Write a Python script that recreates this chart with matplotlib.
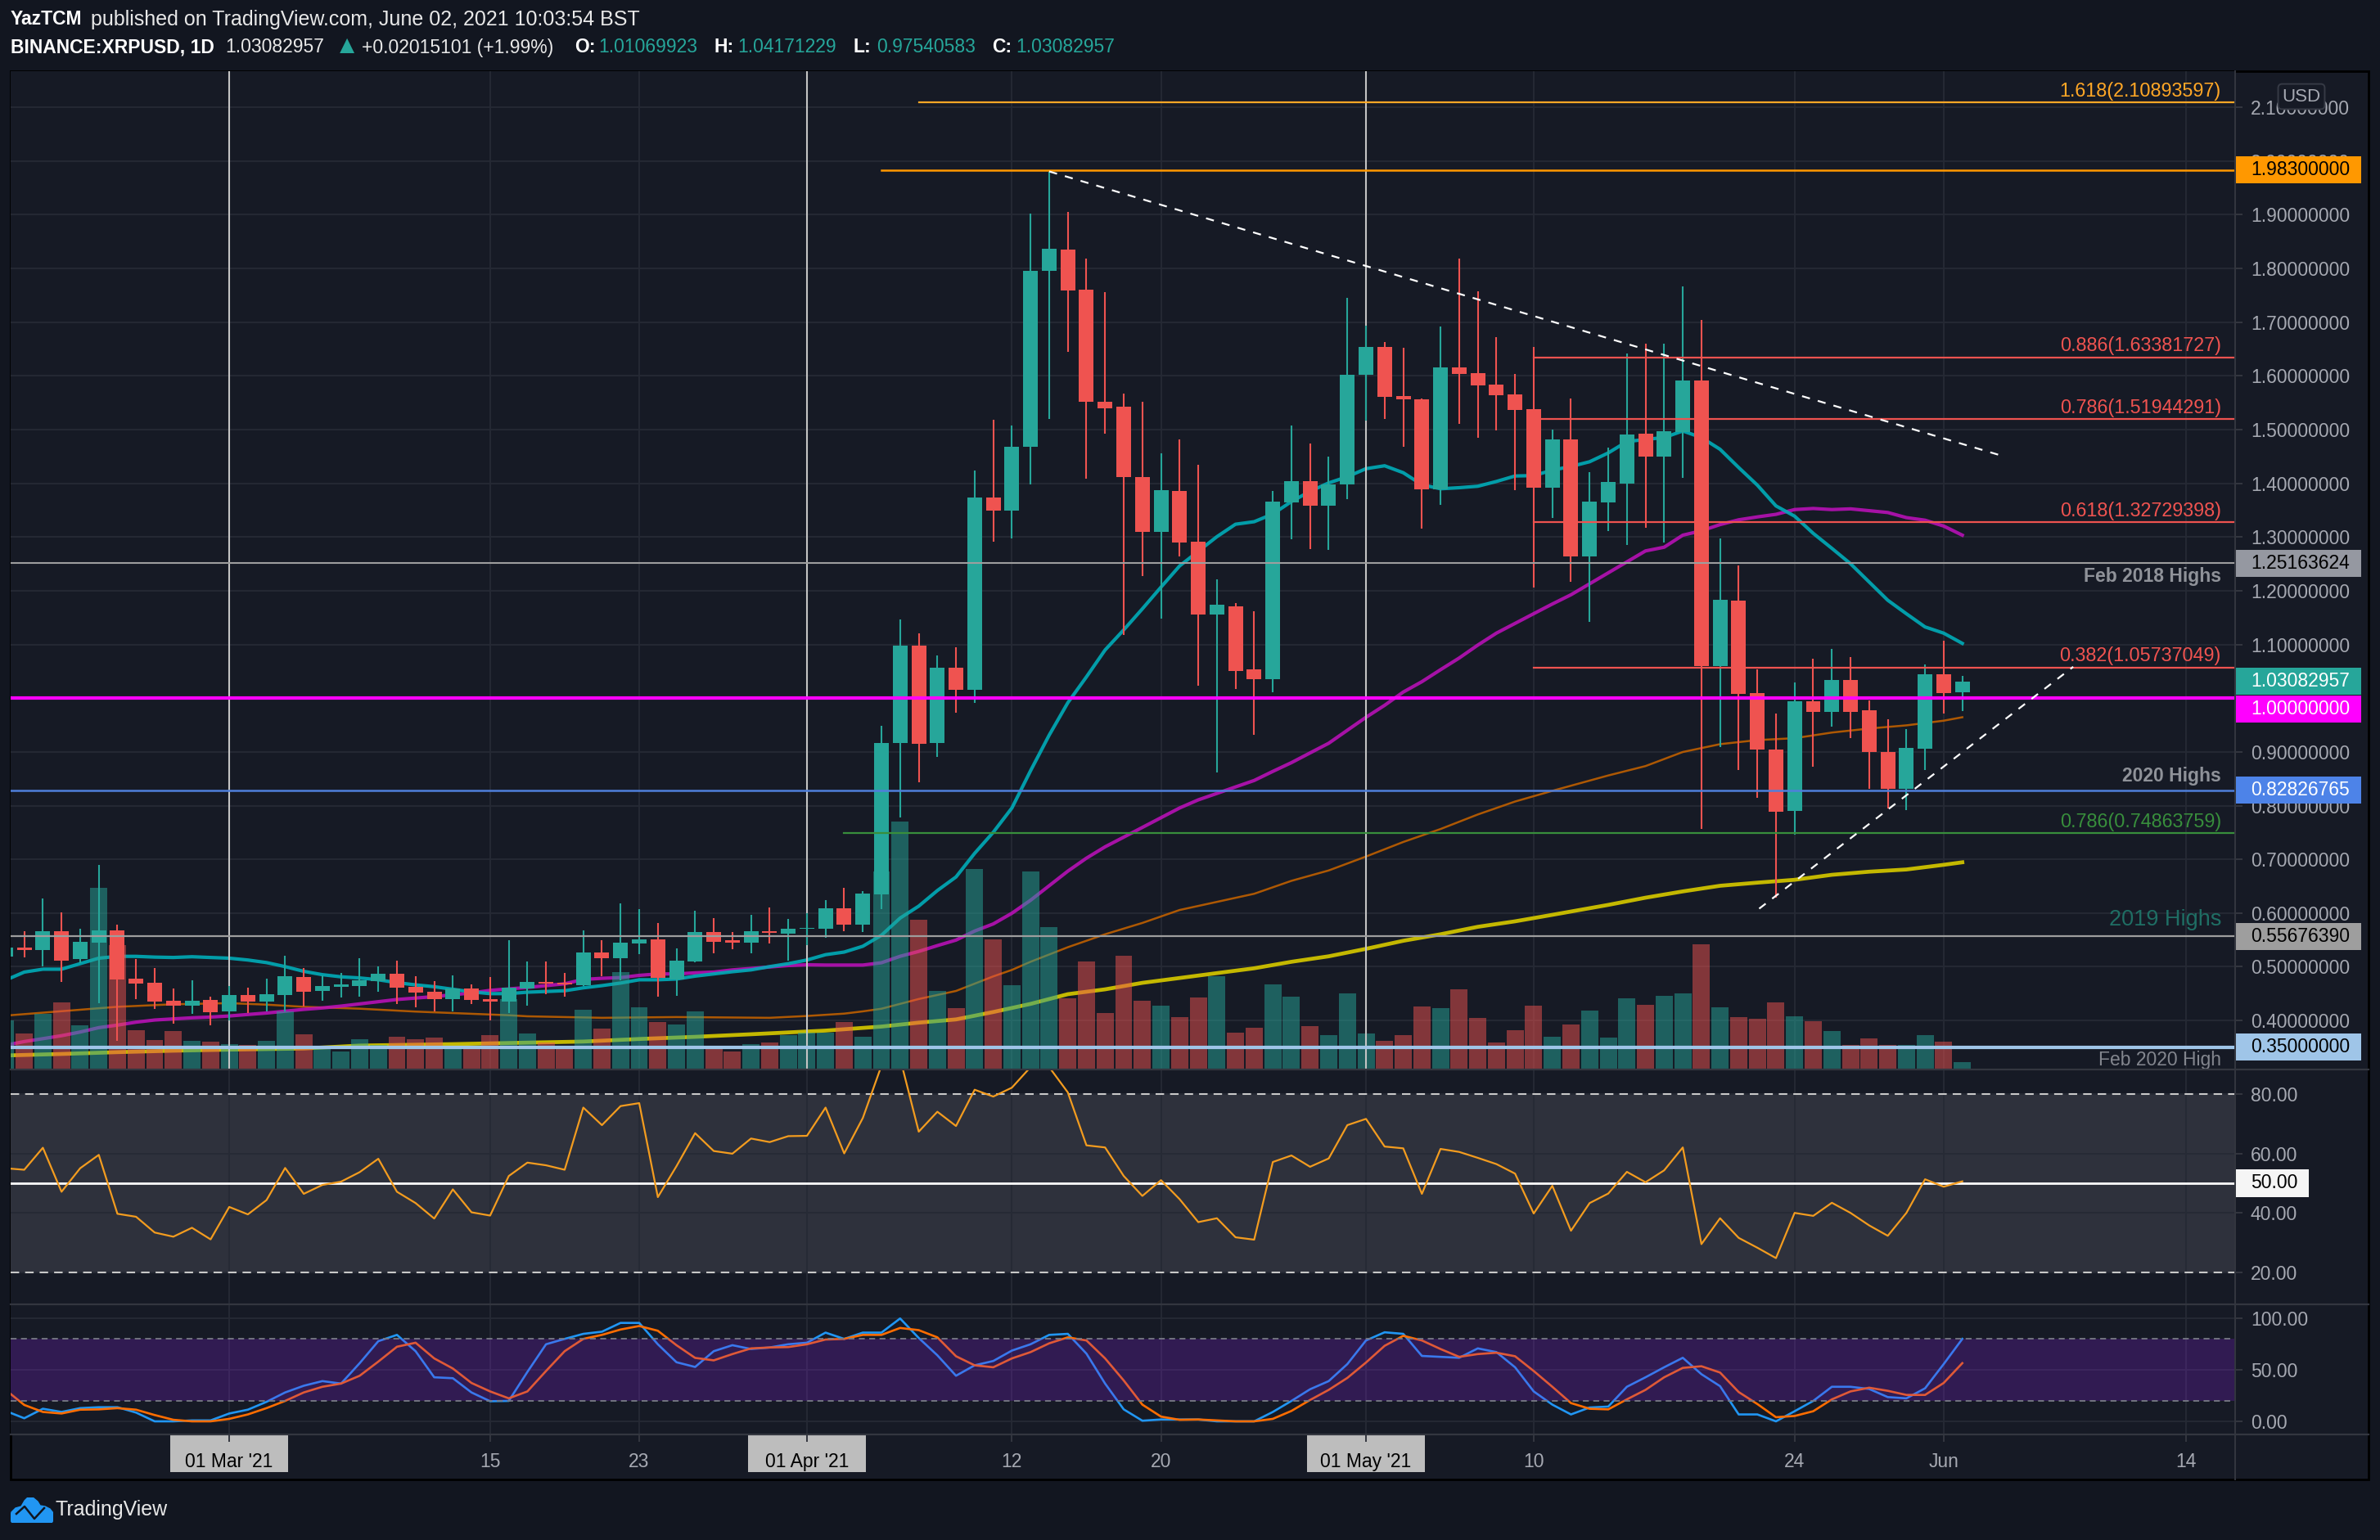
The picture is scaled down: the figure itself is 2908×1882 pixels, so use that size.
#!/usr/bin/env python3
"""
XRPUSD 日线图：K 线、成交量、均线、RSI 与 Stoch RSI
===================================================
用法: python plot.py
"""

import matplotlib
matplotlib.use("Agg")  # 无 GUI 后端
import matplotlib.pyplot as plt
from matplotlib.lines import Line2D
from matplotlib.patches import Rectangle

plt.rcParams["font.family"] = ["Liberation Sans", "DejaVu Sans"]
plt.rcParams["font.size"] = 16.5

# 日期序号：0 = 2021-03-01，第一根 K 线为 -12
days = list(range(-12, 94))

opens = [
    0.5194, 0.5350, 0.5316, 0.5663, 0.5139, 0.5452, 0.5677, 0.4778, 0.4704, 0.4370, 0.4275, 0.4384,
    0.4173, 0.4472, 0.4350, 0.4472, 0.4813, 0.4554, 0.4629, 0.4642, 0.4731, 0.4874, 0.4629, 0.4533,
    0.4397, 0.4595, 0.4397, 0.4350, 0.4595, 0.4717, 0.4704, 0.4656, 0.5269, 0.5160, 0.5439, 0.5513,
    0.4758, 0.5098, 0.5650, 0.5493, 0.5452, 0.5663, 0.5616, 0.5704, 0.5708, 0.6093, 0.5786, 0.6352,
    0.9161, 1.0982, 0.9161, 1.0560, 1.0162, 1.3728, 1.3496, 1.4674, 1.7954, 1.8348, 1.7600, 1.5524,
    1.5422, 1.4109, 1.3102, 1.3864, 1.2918, 1.1550, 1.1713, 1.0529, 1.0359, 1.3639, 1.4034, 1.3578,
    1.3973, 1.6014, 1.6531, 1.5620, 1.5558, 1.3884, 1.6164, 1.6048, 1.5830, 1.5647, 1.5375, 1.3911,
    1.4810, 1.2632, 1.3639, 1.4000, 1.4919, 1.4504, 1.4953, 1.5906, 1.0598, 1.1823, 1.0089, 0.9050,
    0.7907, 0.9949, 0.9750, 1.0345, 0.9768, 0.9004, 0.8316, 0.9062, 1.0438, 1.0107,
]
highs = [
    0.5450, 0.5663, 0.6276, 0.6017, 0.5711, 0.6902, 0.5786, 0.5146, 0.4976, 0.4595, 0.4751, 0.4445,
    0.4642, 0.4615, 0.4778, 0.5207, 0.4976, 0.4840, 0.4887, 0.5160, 0.5010, 0.5112, 0.4826, 0.4731,
    0.4840, 0.4676, 0.4813, 0.5493, 0.5098, 0.5098, 0.4887, 0.5677, 0.5493, 0.6180, 0.6078, 0.5820,
    0.5343, 0.6044, 0.5908, 0.5650, 0.5969, 0.6106, 0.5895, 0.5997, 0.6238, 0.6473, 0.6407, 0.9493,
    1.1470, 1.1211, 1.0801, 1.0952, 1.4231, 1.5177, 1.5068, 1.9015, 1.9805, 1.9049, 1.8178, 1.7552,
    1.5674, 1.5511, 1.4551, 1.4810, 1.4340, 1.2217, 1.1774, 1.1625, 1.3850, 1.5082, 1.4735, 1.4503,
    1.7450, 1.6933, 1.6627, 1.6518, 1.5585, 1.6926, 1.8178, 1.7573, 1.6715, 1.6028, 1.6531, 1.5007,
    1.5572, 1.4204, 1.4660, 1.6423, 1.6600, 1.6600, 1.7662, 1.7036, 1.2980, 1.2476, 1.0530, 0.9721,
    1.0298, 1.0742, 1.0911, 1.0771, 0.9960, 0.9610, 0.9418, 1.0631, 1.1062, 1.0417,
]
lows = [
    0.5120, 0.5173, 0.5010, 0.4717, 0.5071, 0.4323, 0.3615, 0.4397, 0.4220, 0.3935, 0.4125, 0.3914,
    0.4003, 0.4139, 0.4173, 0.4173, 0.4268, 0.4370, 0.4431, 0.4445, 0.4533, 0.4309, 0.4241, 0.4173,
    0.4173, 0.4309, 0.3996, 0.4139, 0.4275, 0.4493, 0.4445, 0.4649, 0.4826, 0.4751, 0.5234, 0.4445,
    0.4459, 0.5085, 0.5255, 0.5323, 0.5255, 0.5439, 0.5112, 0.5398, 0.5545, 0.5665, 0.5647, 0.6075,
    0.7775, 0.8438, 0.8902, 0.9722, 0.9915, 1.2918, 1.2979, 1.3973, 1.5198, 1.6443, 1.4082, 1.4919,
    1.1182, 1.2271, 1.1488, 1.2645, 1.0230, 0.8619, 1.0175, 0.9312, 1.0114, 1.2965, 1.2782, 1.2761,
    1.3700, 1.5164, 1.5198, 1.4687, 1.3156, 1.3591, 1.5102, 1.4850, 1.4980, 1.3871, 1.2054, 1.3360,
    1.2162, 1.1421, 1.3115, 1.2850, 1.3170, 1.2898, 1.4096, 0.7569, 0.9087, 0.8658, 0.8141, 0.6286,
    0.7464, 0.8730, 0.9464, 0.9255, 0.8310, 0.7948, 0.7913, 0.8660, 0.9721, 0.9754,
]
closes = [
    0.5364, 0.5316, 0.5663, 0.5112, 0.5466, 0.5677, 0.4765, 0.4690, 0.4350, 0.4275, 0.4370, 0.4153,
    0.4472, 0.4350, 0.4493, 0.4826, 0.4533, 0.4642, 0.4676, 0.4751, 0.4874, 0.4615, 0.4520, 0.4397,
    0.4595, 0.4384, 0.4357, 0.4615, 0.4717, 0.4690, 0.4670, 0.5269, 0.5160, 0.5452, 0.5513, 0.4792,
    0.5112, 0.5650, 0.5466, 0.5452, 0.5663, 0.5636, 0.5711, 0.5724, 0.6093, 0.5786, 0.6358, 0.9161,
    1.0982, 0.9143, 1.0572, 1.0162, 1.3728, 1.3496, 1.4687, 1.7954, 1.8362, 1.7586, 1.5511, 1.5402,
    1.4109, 1.3102, 1.3877, 1.2904, 1.1550, 1.1734, 1.0509, 1.0359, 1.3653, 1.4034, 1.3578, 1.3986,
    1.6014, 1.6531, 1.5606, 1.5558, 1.3884, 1.6164, 1.6028, 1.5817, 1.5633, 1.5361, 1.3911, 1.4823,
    1.2632, 1.3653, 1.4020, 1.4905, 1.4497, 1.4967, 1.5906, 1.0598, 1.1836, 1.0087, 0.9050, 0.7890,
    0.9949, 0.9750, 1.0345, 0.9750, 0.8992, 0.8316, 0.9080, 1.0438, 1.0100, 1.0308,
]

volumes = [
    60, 44, 68, 82, 54, 222, 152, 48, 36, 47, 35, 34, 31, 30, 35, 71, 43, 28, 22, 37, 30, 40, 37, 39,
    28, 25, 42, 86, 44, 33, 29, 73, 50, 119, 76, 58, 55, 71, 29, 22, 31, 33, 42, 45, 45, 58, 40, 242,
    303, 183, 96, 75, 245, 159, 103, 242, 174, 87, 132, 69, 139, 84, 78, 64, 88, 114, 45, 51, 104, 89,
    53, 42, 93, 44, 35, 42, 77, 75, 98, 63, 33, 48, 78, 40, 55, 72, 39, 87, 79, 90, 93, 153, 76, 64,
    62, 82, 65, 59, 47, 30, 38, 30, 30, 42, 34, 9,
]

# 均线（逐日读取）
ma_teal = [
    0.4751, 0.4901, 0.4955, 0.4955, 0.5058, 0.5160, 0.5194, 0.5194, 0.5180, 0.5173, 0.5187, 0.5173,
    0.5160, 0.5126, 0.5078, 0.5003, 0.4915, 0.4853, 0.4813, 0.4792, 0.4758, 0.4704, 0.4663, 0.4629,
    0.4581, 0.4533, 0.4500, 0.4500, 0.4527, 0.4540, 0.4554, 0.4608, 0.4649, 0.4697, 0.4758, 0.4758,
    0.4772, 0.4826, 0.4867, 0.4908, 0.4942, 0.5003, 0.5058, 0.5126, 0.5225, 0.5274, 0.5382, 0.5587,
    0.5906, 0.6129, 0.6419, 0.6672, 0.7112, 0.7504, 0.7956, 0.8649, 0.9312, 0.9915, 1.0397, 1.0897,
    1.1271, 1.1663, 1.2067, 1.2462, 1.2734, 1.3006, 1.3238, 1.3285, 1.3428, 1.3660, 1.3850, 1.4007,
    1.4122, 1.4272, 1.4326, 1.4197, 1.3973, 1.3898, 1.3918, 1.3945, 1.4034, 1.4136, 1.4143, 1.4245,
    1.4313, 1.4401, 1.4565, 1.4776, 1.4817, 1.4851, 1.4974, 1.4851, 1.4633, 1.4293, 1.3966, 1.3579,
    1.3388, 1.3068, 1.2789, 1.2503, 1.2163, 1.1823, 1.1571, 1.1326, 1.1210, 1.1020,
]
ma_magenta = [
    0.3540, 0.3608, 0.3662, 0.3717, 0.3785, 0.3867, 0.3914, 0.3969, 0.4009, 0.4030, 0.4050, 0.4064,
    0.4084, 0.4112, 0.4139, 0.4173, 0.4207, 0.4234, 0.4268, 0.4309, 0.4350, 0.4391, 0.4418, 0.4445,
    0.4479, 0.4513, 0.4561, 0.4588, 0.4615, 0.4649, 0.4683, 0.4765, 0.4785, 0.4799, 0.4840, 0.4867,
    0.4867, 0.4887, 0.4901, 0.4942, 0.4969, 0.4996, 0.5023, 0.5037, 0.5032, 0.5032, 0.5032, 0.5075,
    0.5195, 0.5286, 0.5394, 0.5497, 0.5665, 0.5798, 0.5997, 0.6238, 0.6509, 0.6780, 0.7022, 0.7233,
    0.7413, 0.7594, 0.7775, 0.7956, 0.8107, 0.8227, 0.8348, 0.8468, 0.8637, 0.8800, 0.8981, 0.9161,
    0.9403, 0.9644, 0.9867, 1.0114, 1.0307, 1.0530, 1.0747, 1.0988, 1.1211, 1.1392, 1.1573, 1.1753,
    1.1925, 1.2129, 1.2333, 1.2537, 1.2741, 1.2810, 1.3034, 1.3116, 1.3231, 1.3320, 1.3374, 1.3422,
    1.3511, 1.3531, 1.3511, 1.3524, 1.3490, 1.3456, 1.3361, 1.3313, 1.3204, 1.3034,
]

# 均线（只读了部分日期）
ma_orange_days = [
    -12, -9, -6, -3, 0, 2, 4, 7, 10, 13, 15, 16, 19, 20, 24, 29, 31, 33, 34, 35, 37, 39, 41, 42, 43, 45,
    47, 49, 51, 53, 55, 57, 59, 61, 63, 65, 67, 69, 71, 74, 76, 78, 80, 82, 84, 86, 88, 90, 92, 93,
]
ma_orange = [
    0.4091, 0.4173, 0.4255, 0.4302, 0.4323, 0.4295, 0.4255, 0.4220, 0.4166, 0.4125, 0.4098, 0.4078,
    0.4057, 0.4050, 0.4064, 0.4050, 0.4084, 0.4128, 0.4170, 0.4219, 0.4400, 0.4550, 0.4821, 0.4942,
    0.5093, 0.5364, 0.5605, 0.5816, 0.6057, 0.6208, 0.6359, 0.6600, 0.6793, 0.7052, 0.7323, 0.7564,
    0.7835, 0.8076, 0.8275, 0.8561, 0.8736, 0.8998, 0.9144, 0.9220, 0.9255, 0.9360, 0.9435, 0.9494,
    0.9581, 0.9645,
]
ma_olive_days = [
    -12, -9, -6, -3, 0, 4, 7, 12, 16, 19, 22, 25, 28, 32, 35, 37, 39, 41, 43, 45, 47, 49, 51, 53, 55,
    57, 59, 61, 63, 65, 67, 69, 71, 74, 76, 78, 80, 82, 84, 86, 88, 90, 92, 93,
]
ma_olive = [
    0.3349, 0.3377, 0.3411, 0.3438, 0.3458, 0.3479, 0.3533, 0.3560, 0.3588, 0.3608, 0.3656, 0.3696,
    0.3744, 0.3812, 0.3887, 0.3960, 0.4020, 0.4158, 0.4309, 0.4490, 0.4580, 0.4701, 0.4791, 0.4882,
    0.4972, 0.5093, 0.5195, 0.5334, 0.5484, 0.5605, 0.5744, 0.5846, 0.5967, 0.6152, 0.6286, 0.6403,
    0.6508, 0.6566, 0.6619, 0.6712, 0.6770, 0.6811, 0.6898, 0.6945,
]

rsi = [
    55.0, 54.5, 61.9, 47.1, 55.0, 59.5, 39.7, 38.7, 33.4, 32.0, 35.0, 31.1, 42.0, 39.5, 44.3, 55.1,
    46.4, 49.4, 50.5, 53.7, 58.2, 47.1, 43.3, 38.1, 47.9, 40.2, 39.1, 52.4, 56.9, 56.0, 54.5, 75.4,
    69.5, 75.9, 76.9, 45.3, 55.7, 66.8, 60.8, 59.9, 65.0, 63.8, 65.8, 65.9, 75.4, 60.0, 71.9, 89.5,
    92.0, 67.3, 74.0, 69.2, 81.4, 79.1, 82.1, 89.0, 89.0, 80.5, 62.7, 62.0, 52.4, 45.7, 51.0, 44.6,
    36.9, 38.2, 31.8, 31.0, 57.1, 59.3, 55.5, 58.3, 69.5, 71.6, 62.3, 61.7, 46.4, 61.5, 60.5, 58.5,
    56.4, 53.2, 39.8, 49.1, 34.0, 43.3, 46.5, 53.8, 50.3, 54.3, 62.0, 29.5, 38.2, 31.6, 28.3, 24.8,
    40.0, 39.0, 43.4, 40.0, 35.8, 32.3, 40.0, 51.3, 48.8, 50.6,
]
stoch_k = [
    10.1, 3.0, 12.2, 9.1, 12.8, 13.7, 13.7, 8.5, 0.0, 0.0, 0.9, 0.9, 7.6, 11.3, 18.9, 28.0, 34.5, 39.0,
    36.6, 56.4, 77.7, 83.8, 68.0, 42.7, 41.8, 28.0, 19.5, 19.8, 47.9, 74.7, 79.9, 84.8, 86.9, 95.4, 95.4,
    74.7, 57.3, 52.7, 68.0, 73.8, 70.1, 71.6, 74.7, 76.2, 86.0, 79.9, 86.0, 86.0, 99.7, 80.8, 64.0, 44.2,
    54.3, 58.5, 68.6, 74.7, 83.8, 84.8, 65.6, 36.6, 11.6, 0.6, 1.8, 1.8, 1.8, 0.0, 0.0, 0.0, 9.1, 19.8,
    31.1, 39.0, 55.5, 78.4, 86.3, 84.8, 63.4, 62.5, 61.6, 70.7, 67.1, 52.4, 29.0, 16.2, 6.7, 13.4, 14.3,
    33.5, 42.7, 52.4, 61.6, 45.7, 34.1, 6.7, 6.7, 0.0, 9.8, 19.8, 33.5, 33.5, 31.4, 23.5, 22.3, 32.0,
    55.5, 79.9,
]
stoch_d = [
    30.5, 15.9, 9.1, 7.6, 11.3, 11.6, 12.8, 11.3, 6.1, 1.5, 0.0, 0.0, 2.4, 6.7, 12.8, 19.8, 28.0, 33.5,
    36.6, 44.2, 57.9, 72.3, 76.2, 61.0, 51.2, 37.2, 29.0, 22.3, 29.0, 48.8, 68.0, 79.9, 83.8, 89.0, 92.4,
    87.8, 73.8, 61.5, 59.1, 65.2, 70.7, 71.6, 72.0, 74.7, 79.3, 79.9, 83.8, 83.8, 90.5, 88.4, 81.4, 63.1,
    54.3, 52.4, 61.0, 67.1, 75.6, 81.4, 78.4, 61.0, 39.6, 16.2, 4.6, 1.5, 1.8, 0.9, 0.0, 0.0, 2.4, 10.1,
    20.7, 30.5, 42.1, 57.0, 73.2, 82.9, 78.4, 70.1, 62.5, 65.2, 66.5, 63.1, 48.8, 33.5, 17.7, 12.2, 11.6,
    21.3, 30.5, 42.7, 51.8, 53.4, 47.3, 28.4, 16.8, 4.0, 5.2, 9.8, 21.3, 29.0, 32.6, 29.6, 25.6, 25.6,
    37.2, 56.4,
]

price_ticks = [0.4, 0.5, 0.6, 0.7, 0.8, 0.9, 1.0, 1.1, 1.2, 1.3, 1.4, 1.5, 1.6, 1.7, 1.8, 1.9, 2.0, 2.1]
rsi_ticks = [20, 40, 60, 80]
stoch_ticks = [0, 50, 100]
date_ticks = [0, 14, 22, 31, 42, 50, 61, 70, 84, 92, 105]
date_labels = ["01 Mar '21", "15", "23", "01 Apr '21", "12", "20", "01 May '21", "10", "24", "Jun", "14"]
month_ticks = [0, 31, 61]

# 斐波那契水平线：数值、标签、颜色、起始日
fib_levels = [
    (2.10893597, "1.618(2.10893597)", "#FFA726", 37),
    (1.63381727, "0.886(1.63381727)", "#EF5350", 70),
    (1.51944291, "0.786(1.51944291)", "#EF5350", 70),
    (1.32729398, "0.618(1.32729398)", "#EF5350", 70),
    (1.05737049, "0.382(1.05737049)", "#EF5350", 70),
    (0.74863759, "0.786(0.74863759)", "#388E3C", 33),
]
# 其余水平线：数值、颜色、线宽
plain_levels = [
    (1.25163624, "#9E9E9E", 1.5),
    (1.00000000, "#FF00FF", 3.0),
    (0.82826765, "#4F7FDB", 1.8),
    (0.55676390, "#9E9E9E", 1.6),
    (0.35000000, "#9FC5E8", 3.0),
]
notes = [
    (1.2265, "Feb 2018 Highs", "#8F9299", "bold", 16.5),
    (0.8546, "2020 Highs", "#8F9299", "bold", 16.5),
    (0.5878, "2019 Highs", "#1F6E64", "normal", 19.5),
    (0.3256, "Feb 2020 High", "#83868E", "normal", 16.5),
]
trend_down = ([44, 95], [1.9805, 1.4525])
trend_up = ([82.1, 98.95], [0.6082, 1.0584])

W, H = 2908, 1882
BG_OUT = "#121620"
BG_PANE = "#161A25"
GRID = "#262A35"
AXIS = "#33363F"
TEXT = "#A6A9B2"
UP = "#26A69A"
DOWN = "#EF5350"


def fx(px):
    """像素 x 转 figure 坐标"""
    return px / W


def fy(px):
    """像素 y 转 figure 坐标"""
    return 1 - px / H


def draw_tag(ax, value, label, fc, tc, half, width=0.0568, shift=0.0):
    """右侧价格标签"""
    ax.add_patch(Rectangle((1.0, value + shift - half), width, 2 * half, transform=ax.get_yaxis_transform(),
                           fc=fc, ec="none", clip_on=False, zorder=7))
    ax.text(1.00699, value + shift, label, transform=ax.get_yaxis_transform(), color=tc,
            va="center", ha="left", zorder=8)


def plot_price(ax):
    """主图：K 线、成交量、均线、水平线"""
    ax.plot(days, ma_teal, color="#00ACB8", lw=3.0, alpha=0.9, zorder=1.4)
    ax.plot(days, ma_magenta, color="#C010BE", lw=3.0, alpha=0.85, zorder=1.3)
    ax.plot(ma_orange_days, ma_orange, color="#BF5F00", lw=1.8, alpha=0.9, zorder=1.2)
    ax.plot(ma_olive_days, ma_olive, color="#C4B800", lw=3.4, zorder=1.1)

    # 成交量
    colors = [UP if c >= o else DOWN for o, c in zip(opens, closes)]
    heights = [v / 1219 for v in volumes]
    ax.bar(days, heights, width=0.92, color=colors, alpha=0.5, transform=ax.get_xaxis_transform(), zorder=2)

    for d in month_ticks:
        ax.axvline(d, color="#C4C4C4", lw=1.5, zorder=2.5)

    # K 线
    ax.vlines(days, lows, highs, colors=colors, lw=1.5, zorder=3)
    bottoms = [min(o, c) for o, c in zip(opens, closes)]
    bodies = [max(abs(c - o), 0.002) for o, c in zip(opens, closes)]
    ax.bar(days, bodies, bottom=bottoms, width=0.79, color=colors, zorder=3.1)

    # 水平线
    for value, color, lw in plain_levels:
        ax.axhline(value, color=color, lw=lw, zorder=5)
    ax.plot([35, 107.64], [1.983, 1.983], color="#FF9800", lw=1.8, zorder=5)
    for value, label, color, start in fib_levels:
        ax.plot([start, 107.64], [value, value], color=color, lw=1.6, zorder=5)
        ax.text(0.9937, value + 0.0215, label, transform=ax.get_yaxis_transform(), color=color,
                ha="right", va="center", fontsize=16.8, zorder=6)
    for value, label, color, weight, size in notes:
        ax.text(0.9937, value, label, transform=ax.get_yaxis_transform(), color=color,
                ha="right", va="center", fontweight=weight, fontsize=size, zorder=6)

    # 趋势线
    for xs, ys in (trend_down, trend_up):
        ax.plot(xs, ys, color="white", lw=1.6, ls=(0, (4.5, 4.5)), zorder=6)

    ax.set_ylim(0.3088, 2.1671)
    ax.set_yticks(price_ticks)
    ax.set_yticklabels(["" if v == 1.0 else f"{v:.8f}" for v in price_ticks])

    half = 16.5 / 656
    draw_tag(ax, 1.983, "1.98300000", "#FF9800", "black", half)
    draw_tag(ax, 1.25163624, "1.25163624", "#9598A1", "black", half)
    draw_tag(ax, 1.03082957, "1.03082957", UP, "white", half)
    draw_tag(ax, 1.0, "1.00000000", "#FF00FF", "white", half, shift=-0.0207)
    draw_tag(ax, 0.82826765, "0.82826765", "#4D83E8", "white", half)
    draw_tag(ax, 0.5567639, "0.55676390", "#9E9E9E", "black", half)
    draw_tag(ax, 0.35, "0.35000000", "#9FC5E8", "black", half)


def plot_rsi(ax):
    """RSI 副图"""
    ax.axhspan(20, 80, color="#92919C", alpha=0.2, lw=0, zorder=0.5)
    ax.axhline(80, color="#C8C8C8", lw=1.5, ls=(0, (5, 3.5)), zorder=2)
    ax.axhline(20, color="#C8C8C8", lw=1.5, ls=(0, (5, 3.5)), zorder=2)
    ax.axhline(50, color="white", lw=2.0, zorder=2)
    ax.plot(days, rsi, color="#F39C1F", lw=1.6, zorder=3)
    ax.set_ylim(9.4, 88.2)
    ax.set_yticks(rsi_ticks)
    ax.set_yticklabels([f"{v:.2f}" for v in rsi_ticks])
    draw_tag(ax, 50, "50.00", "#F5F5F5", "black", 4.67, width=0.0331)


def plot_stoch(ax):
    """Stoch RSI 副图"""
    ax.plot(days, stoch_k, color="#2196F3", lw=1.9, zorder=2)
    ax.plot(days, stoch_d, color="#FF6D00", lw=1.9, zorder=2.1)
    ax.axhspan(20, 80, color="#8521DC", alpha=0.25, lw=0, zorder=3)
    ax.axhline(80, color="#787B86", lw=1.3, ls=(0, (4, 3)), zorder=3.1)
    ax.axhline(20, color="#787B86", lw=1.3, ls=(0, (4, 3)), zorder=3.1)
    ax.set_ylim(-12.7, 113.8)
    ax.set_yticks(stoch_ticks)
    ax.set_yticklabels([f"{v:.2f}" for v in stoch_ticks])


def draw_header(fig):
    """顶部标题与 OHLC"""
    fig.text(fx(13), fy(24), "YazTCM", color="white", fontweight="bold", va="center")
    fig.text(fx(111), fy(24), "published on TradingView.com, June 02, 2021 10:03:54 BST", color="#E8E8E8",
             va="center", fontsize=18)
    fig.text(fx(13), fy(58), "BINANCE:XRPUSD, 1D", color="white", fontweight="bold", va="center")
    fig.text(fx(275), fy(58), "1.03082957", color="#E8E8E8", va="center")
    fig.text(fx(424), fy(57), "▲", color=UP, va="center", ha="center", fontsize=22)
    fig.text(fx(442), fy(58), "+0.02015101 (+1.99%)", color="#E8E8E8", va="center")
    for x, key, val in [(702, "O:", "1.01069923"), (872, "H:", "1.04171229"),
                        (1042, "L:", "0.97540583"), (1212, "C:", "1.03082957")]:
        fig.text(fx(x), fy(58), key, color="white", fontweight="bold", va="center")
        fig.text(fx(x + 29), fy(58), val, color=UP, va="center")


def draw_logo(fig):
    """左下角 TradingView 标志"""
    ax = fig.add_axes([fx(13), fy(1861), 52 / W, 31 / H])
    ax.axis("off")
    ax.set_xlim(0, 52)
    ax.set_ylim(0, 31)
    ax.fill([0, 1, 6, 13, 17, 21, 27, 33, 36, 42, 48, 52, 52, 50, 2, 0],
            [7, 13, 18, 20, 27, 31, 31, 26, 21, 20, 17, 12, 3, 0, 0, 3], color="#2196F3")
    ax.plot([7, 17, 29, 41], [11, 20, 5, 18], color="#10151F", lw=1.8)
    fig.text(fx(68), fy(1845), "TradingView", color="#E8E8E8", va="center", fontsize=18)


def main():
    fig, axes = plt.subplots(3, 1, figsize=(W / 100, H / 100), dpi=100, sharex=True,
                             gridspec_kw={"height_ratios": [1220, 286.5, 159.5], "hspace": 0})
    fig.subplots_adjust(left=fx(13), right=fx(2731), top=fy(87), bottom=fy(1753))
    fig.set_facecolor(BG_OUT)
    fig.add_artist(Rectangle((fx(13), fy(1808)), fx(2894 - 13), 1721 / H, transform=fig.transFigure,
                             fc=BG_PANE, ec="black", lw=2, zorder=-1))

    plot_price(axes[0])
    plot_rsi(axes[1])
    plot_stoch(axes[2])

    for ax in axes:
        ax.set_facecolor(BG_PANE)
        ax.yaxis.tick_right()
        ax.tick_params(axis="y", colors=TEXT, length=6.5, width=1.4, pad=7, color=AXIS)
        ax.tick_params(axis="x", length=0, labelbottom=False)
        ax.grid(True, color=GRID, lw=1.3, zorder=0)
        ax.set_axisbelow(True)
        for spine in ax.spines.values():
            spine.set_visible(False)

    ax = axes[2]
    ax.set_xlim(-11.73, 107.64)
    ax.set_xticks(date_ticks)
    ax.set_xticklabels(date_labels)
    ax.tick_params(axis="x", length=6.5, width=1.4, pad=9, colors=TEXT, color=AXIS, labelbottom=True)
    for tick, d in zip(ax.xaxis.get_major_ticks(), date_ticks):
        if d in month_ticks:
            tick.label1.set_color("black")
            tick.tick1line.set_color("black")
            ax.add_patch(Rectangle((d - 3.16, 0), 6.32, -0.2884, transform=ax.get_xaxis_transform(),
                                   fc="#BDBDBD", ec="none", clip_on=False, zorder=0.3))

    # 面板分隔线
    for y in (1307, 1593.5, 1753):
        fig.add_artist(Line2D([fx(13), fx(2894)], [fy(y), fy(y)], color=AXIS, lw=1.6))
    fig.add_artist(Line2D([fx(2731), fx(2731)], [fy(87), fy(1808)], color=AXIS, lw=1.4))

    fig.text(fx(2812), fy(118), "USD", color=TEXT, ha="center", va="center", fontsize=16, zorder=5,
             bbox=dict(boxstyle="round,pad=0.22", fc=BG_PANE, ec="#363A45", lw=1.4))

    draw_header(fig)
    draw_logo(fig)

    fig.savefig("out.png", dpi=100, facecolor=fig.get_facecolor())
    plt.close(fig)


if __name__ == "__main__":
    main()
